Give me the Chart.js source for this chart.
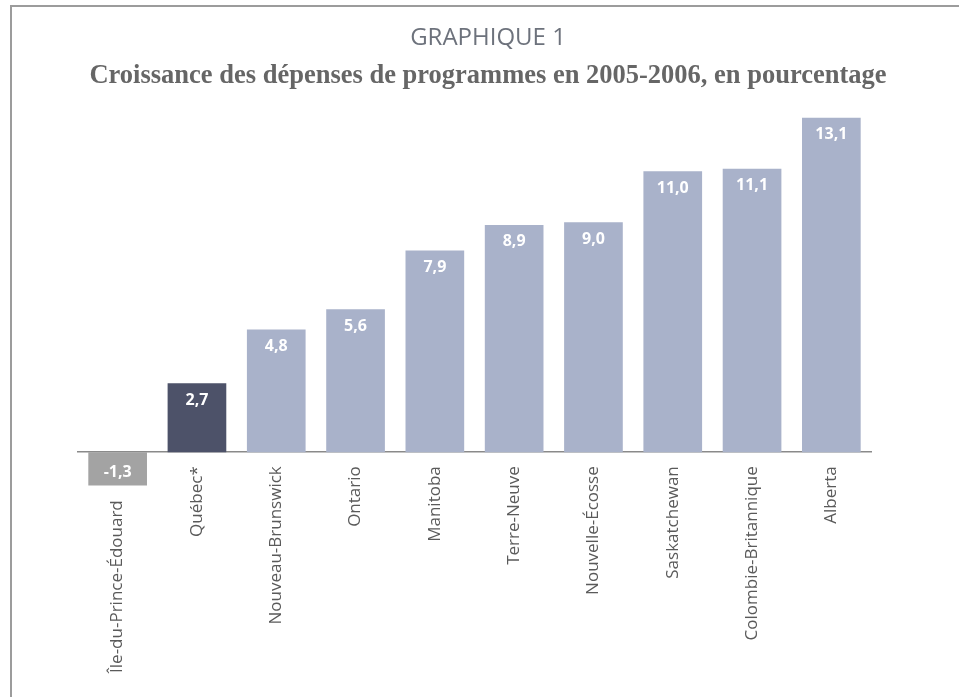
<!DOCTYPE html>
<html lang="fr">
<head>
<meta charset="UTF-8">
<title>Graphique 1</title>
<script src="https://cdn.jsdelivr.net/npm/chart.js"></script>
<style>
  body { margin: 0; background: #fff; }
  .cadre { position: absolute; left: 10px; top: 5px; width: 960px; height: 700px;
           border-left: 2px solid #9c9c9c; border-top: 2px solid #9c9c9c; }
  .zone { position: absolute; left: 0; top: 0; width: 959px; height: 697px; }
</style>
</head>
<body>
<div class="cadre"></div>
<div class="zone"><canvas id="graphique"></canvas></div>
<script>
  // provinces, ordre du graphique
  const provinces = ['Île-du-Prince-Édouard', 'Québec*', 'Nouveau-Brunswick', 'Ontario', 'Manitoba',
                     'Terre-Neuve', 'Nouvelle-Écosse', 'Saskatchewan', 'Colombie-Britannique', 'Alberta'];
  const croissance = [-1.3, 2.7, 4.8, 5.6, 7.9, 8.9, 9.0, 11.0, 11.1, 13.1];

  const clair = '#a9b2ca';
  const couleurs = croissance.map((v, i) => {
    if (v < 0) return '#a3a3a3';
    if (provinces[i] === 'Québec*') return '#4d5269';
    return clair;
  });

  // valeurs en blanc dans les barres
  const etiquettes = {
    id: 'etiquettes',
    afterDatasetsDraw(chart) {
      const ctx = chart.ctx;
      const meta = chart.getDatasetMeta(0);
      ctx.save();
      ctx.fillStyle = '#ffffff';
      ctx.font = 'bold 16px "Open Sans"';
      ctx.textAlign = 'center';
      ctx.textBaseline = 'middle';
      meta.data.forEach((bar, i) => {
        const v = croissance[i];
        const txt = v.toFixed(1).replace('.', ',');
        let y = bar.y + 17;
        if (v < 0) y = (bar.base + bar.y) / 2 + 4;
        ctx.fillText(txt, bar.x, y);
      });
      ctx.restore();
    }
  };

  new Chart(document.getElementById('graphique'), {
    type: 'bar',
    data: {
      labels: provinces,
      datasets: [{
        data: croissance,
        backgroundColor: couleurs,
        borderWidth: 0,
        barPercentage: 0.74,
        categoryPercentage: 1
      }]
    },
    options: {
      responsive: true,
      maintainAspectRatio: false,
      animation: false,
      layout: { padding: { left: 78, right: 61, top: 0, bottom: 209 } },
      plugins: {
        legend: { display: false },
        tooltip: { enabled: false },
        title: {
          display: true,
          text: 'GRAPHIQUE 1',
          color: '#6d727c',
          font: { family: '"Open Sans"', size: 24, weight: 'normal' },
          padding: { top: 24, bottom: 4 }
        },
        subtitle: {
          display: true,
          text: 'Croissance des dépenses de programmes en 2005-2006, en pourcentage',
          color: '#666666',
          font: { family: '"Liberation Serif"', size: 26.5, weight: 'bold' },
          padding: { top: 3, bottom: 26 }
        }
      },
      scales: {
        x: {
          position: { y: 0 },
          grid: { display: false, drawTicks: false },
          border: { display: true, color: '#8a8a8a', width: 1.5 },
          ticks: {
            minRotation: 90,
            maxRotation: 90,
            autoSkip: false,
            padding: 14,
            color: '#5a5a5a',
            font: { family: '"Open Sans"', size: 17 },
            callback: function (val, i) {
              // étiquette sous la barre négative
              const nom = provinces[i];
              return croissance[i] < 0 ? nom + '\u2003\u2003' : nom;
            }
          }
        },
        y: {
          position: 'right',
          min: -1.4,
          max: 13.1,
          grid: { display: false },
          border: { display: false },
          ticks: { display: false },
          afterFit: function (s) { s.width = 27; }
        }
      }
    },
    plugins: [etiquettes]
  });
</script>
</body>
</html>
